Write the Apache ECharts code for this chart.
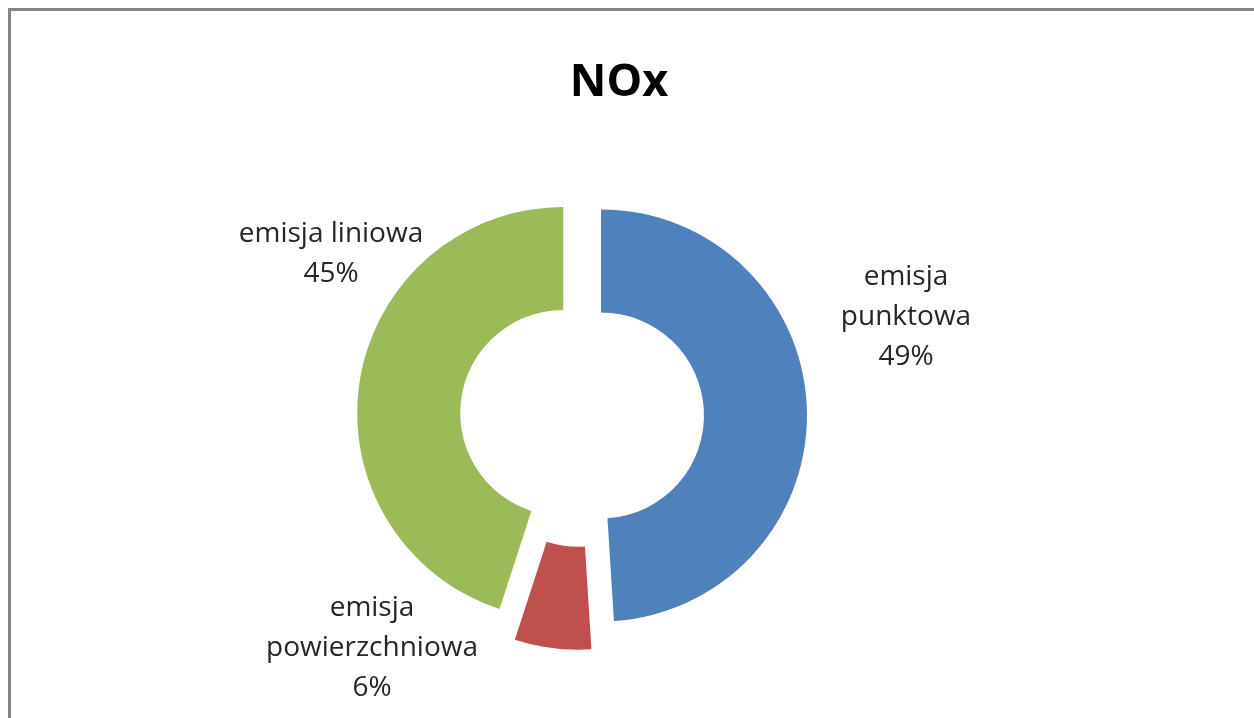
<!DOCTYPE html>
<html>
<head>
<meta charset="utf-8">
<title>NOx</title>
<script src="https://cdn.jsdelivr.net/npm/echarts@6/dist/echarts.min.js"></script>
<style>
  html, body { margin: 0; padding: 0; background: #fff; }
  #chart { width: 1254px; height: 718px; }
</style>
</head>
<body>
<div id="chart"></div>
<script>
// data
const categories = ['emisja\npunktowa', 'emisja\npowierzchniowa', 'emisja liniowa'];
const values = [49, 6, 45];
const colors = ['#4F81BD', '#C0504D', '#9BBB59'];

// which slices are pulled out a bit further (the small one)
const farSlice = [false, true, false];

// label anchors (block centre), px
const labelPos = [[906, 317], [372, 648], [331, 254]];

const chart = echarts.init(document.getElementById('chart'));

const clear = 'rgba(0,0,0,0)';

// slices: 'near' / 'far' pick which ones are painted, the rest stay clear
function sliceData(showFar) {
  return values.map((v, i) => ({
    value: v,
    name: categories[i],
    selected: true,
    itemStyle: { color: farSlice[i] === showFar ? colors[i] : clear }
  }));
}

const common = {
  type: 'pie',
  center: [582, 416],
  radius: [103, 206],
  startAngle: 90,
  clockwise: true,
  percentPrecision: 0,
  emphasis: { disabled: true },
  labelLine: { show: false }
};

const option = {
  backgroundColor: '#fff',
  animation: false,
  tooltip: { show: false },
  title: {
    text: 'NOx',
    left: 614,
    top: 56,
    textAlign: 'center',
    textStyle: {
      fontFamily: 'Open Sans',
      fontWeight: 'bold',
      fontSize: 45,
      color: '#000'
    }
  },
  graphic: [{
    // chart frame, runs off the right and bottom edges
    type: 'rect',
    shape: { x: 9.5, y: 9.5, width: 1400, height: 900 },
    style: { fill: null, stroke: '#858585', lineWidth: 3 },
    silent: true
  }],
  series: [
    Object.assign({}, common, {
      name: 'near',
      selectedMode: 'multiple',
      selectedOffset: 19,
      data: sliceData(false),
      label: { show: false }
    }),
    Object.assign({}, common, {
      name: 'far',
      selectedMode: 'multiple',
      selectedOffset: 28,
      data: sliceData(true),
      label: { show: false }
    }),
    // labels only, on an unselected clear copy so the layout sticks
    Object.assign({}, common, {
      name: 'labels',
      z: 5,
      itemStyle: { color: clear },
      data: values.map((v, i) => ({ value: v, name: categories[i] })),
      label: {
        show: true,
        position: 'outside',
        formatter: '{b}\n{d}%',
        fontFamily: 'Open Sans',
        fontSize: 28,
        lineHeight: 40,
        color: '#262626',
        align: 'center'
      },
      labelLayout: function (params) {
        const p = labelPos[params.dataIndex];
        return { x: p[0], y: p[1], align: 'center', verticalAlign: 'middle' };
      }
    })
  ]
};

chart.setOption(option);
</script>
</body>
</html>
